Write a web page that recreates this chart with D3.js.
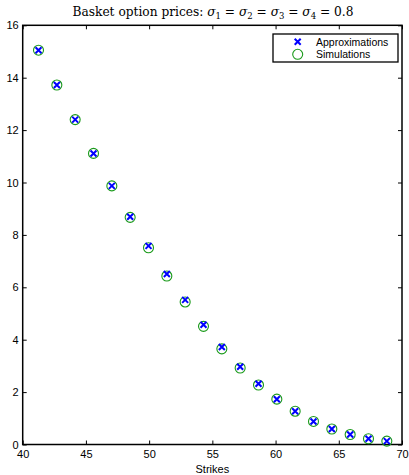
<!DOCTYPE html>
<html lang="en">
<head>
  <meta charset="UTF-8">
  <title>Basket option prices</title>
  <script src="https://cdn.jsdelivr.net/npm/d3@7"></script>
  <style>
    body { margin: 0; background: #fff; }
    svg { display: block; }
    .axis text { font-family: "Liberation Sans", Arial, sans-serif; font-size: 11px; fill: #000; }
    .axis path, .axis line { stroke: #000; }
  </style>
</head>
<body>
  <script>
    // data
    const strikes = [41.25, 42.7, 44.15, 45.6, 47.05, 48.5, 49.95, 51.4, 52.85, 54.3,
                     55.75, 57.2, 58.65, 60.1, 61.55, 63.0, 64.45, 65.9, 67.35, 68.8];
    const approximations = [15.05, 13.72, 12.40, 11.11, 9.87, 8.69, 7.58, 6.51, 5.52, 4.57,
                            3.72, 2.97, 2.32, 1.73, 1.27, 0.88, 0.59, 0.38, 0.22, 0.13];
    const simulations = [15.05, 13.72, 12.40, 11.11, 9.87, 8.67, 7.51, 6.43, 5.44, 4.51,
                         3.65, 2.92, 2.27, 1.73, 1.27, 0.88, 0.59, 0.38, 0.22, 0.13];
    const xTicks = [40, 45, 50, 55, 60, 65, 70];
    const yTicks = [0, 2, 4, 6, 8, 10, 12, 14, 16];

    const W = 409, H = 475;
    const margin = {top: 25.3, right: 7, bottom: 30.5, left: 22.7};
    const w = W - margin.left - margin.right;
    const h = H - margin.top - margin.bottom;

    const svg = d3.select("body").append("svg").attr("width", W).attr("height", H);
    const g = svg.append("g").attr("transform", `translate(${margin.left},${margin.top})`);

    const x = d3.scaleLinear().domain([40, 70]).range([0, w]);
    const y = d3.scaleLinear().domain([0, 16]).range([h, 0]);

    // axes with inward ticks on all four sides
    g.append("g").attr("class", "axis").attr("transform", `translate(0,${h})`)
      .call(d3.axisBottom(x).tickValues(xTicks).tickSize(-4).tickPadding(6).tickSizeOuter(0));
    g.append("g").attr("class", "axis")
      .call(d3.axisTop(x).tickValues(xTicks).tickSize(-4).tickSizeOuter(0).tickFormat(""));
    g.append("g").attr("class", "axis")
      .call(d3.axisLeft(y).tickValues(yTicks).tickSize(-4).tickPadding(4).tickSizeOuter(0));
    g.append("g").attr("class", "axis").attr("transform", `translate(${w},0)`)
      .call(d3.axisRight(y).tickValues(yTicks).tickSize(-4).tickSizeOuter(0).tickFormat(""));
    g.selectAll(".axis .domain").remove();

    // box
    g.append("rect").attr("width", w).attr("height", h)
      .attr("fill", "none").attr("stroke", "#000").attr("stroke-width", 1.5);

    const cross = (sel, cx, cy, s) => {
      sel.append("path")
        .attr("d", `M${cx - s},${cy - s}L${cx + s},${cy + s}M${cx - s},${cy + s}L${cx + s},${cy - s}`)
        .attr("stroke", "#0000ff").attr("stroke-width", 2).attr("fill", "none");
    };

    // simulations (circles)
    g.selectAll(".sim").data(strikes).enter().append("circle")
      .attr("class", "sim")
      .attr("cx", d => x(d))
      .attr("cy", (d, i) => y(simulations[i]))
      .attr("r", 5)
      .attr("fill", "none").attr("stroke", "#1a9a1a").attr("stroke-width", 1.1);

    // approximations (crosses)
    const marks = g.append("g");
    strikes.forEach((d, i) => cross(marks, x(d), y(approximations[i]), 3));

    // title
    const title = svg.append("text")
      .attr("x", 213).attr("y", 16)
      .attr("text-anchor", "middle")
      .attr("font-family", "'DejaVu Serif', 'Liberation Serif', serif")
      .attr("font-size", 12.2);
    title.append("tspan").text("Basket option prices: ");
    [1, 2, 3, 4].forEach((k, i) => {
      title.append("tspan").attr("font-style", "italic").text("σ");
      title.append("tspan").attr("font-size", 8.5).attr("dy", 3).text(k);
      title.append("tspan").attr("dy", -3).text(i < 3 ? " = " : " = 0.8");
    });

    // x label
    svg.append("text")
      .attr("x", margin.left + w / 2).attr("y", 473)
      .attr("text-anchor", "middle")
      .attr("font-family", "'Liberation Sans', Arial, sans-serif")
      .attr("font-size", 11)
      .text("Strikes");

    // legend
    const lg = svg.append("g").attr("transform", "translate(273,34)");
    lg.append("rect").attr("width", 125).attr("height", 28)
      .attr("fill", "#fff").attr("stroke", "#000").attr("stroke-width", 1.3);
    cross(lg, 24.7, 7.7, 3);
    lg.append("circle").attr("cx", 24.7).attr("cy", 20.3).attr("r", 5)
      .attr("fill", "none").attr("stroke", "#1a9a1a").attr("stroke-width", 1.1);
    const labels = ["Approximations", "Simulations"];
    lg.selectAll(".lab").data(labels).enter().append("text")
      .attr("x", 43).attr("y", (d, i) => 11.5 + i * 12.6)
      .attr("font-family", "'Liberation Sans', Arial, sans-serif")
      .attr("font-size", 10.5)
      .text(d => d);
  </script>
</body>
</html>
